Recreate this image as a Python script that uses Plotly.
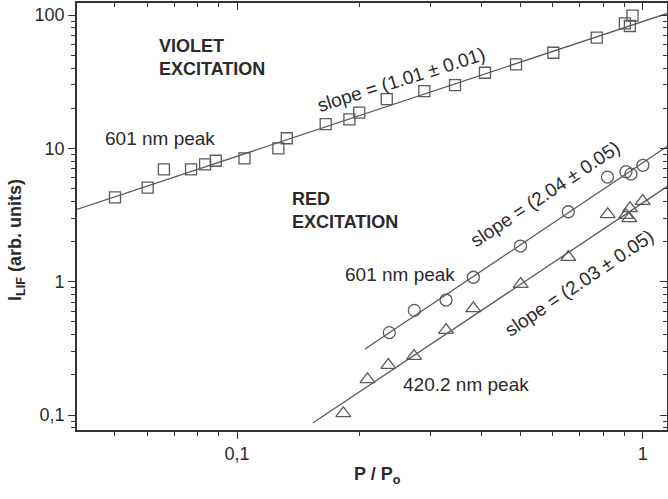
import plotly.graph_objects as go

# ---- data ----
violet_P = [0.050, 0.0602, 0.066, 0.077, 0.0834, 0.0886, 0.1043, 0.1264, 0.1326, 0.1654,
            0.1892, 0.2001, 0.2339, 0.2895, 0.3446, 0.4085, 0.4873, 0.6023, 0.7705, 0.904, 0.944, 0.930]
violet_I = [4.28, 5.07, 6.95, 6.95, 7.59, 8.07, 8.41, 10.0, 11.9, 15.2,
            16.5, 18.5, 23.4, 26.9, 29.8, 36.9, 42.7, 52.1, 67.6, 86.6, 98.8, 82.7]

red601_P = [0.2373, 0.2735, 0.3275, 0.3824, 0.4998, 0.6557, 0.8188, 0.9095, 0.9359, 1.0017]
red601_I = [0.415, 0.609, 0.728, 1.079, 1.85, 3.345, 6.09, 6.68, 6.41, 7.46]

red420_P = [0.1828, 0.2096, 0.236, 0.2731, 0.3275, 0.3824, 0.5004, 0.6557, 0.82, 0.9095, 0.9306, 0.927, 1.0]
red420_I = [0.1028, 0.185, 0.2366, 0.2767, 0.4335, 0.63, 0.959, 1.53, 3.2, 3.16, 3.55, 2.98, 4.02]

# power-law fits: (prefactor, slope, P start, P end)
fit_violet = (89.3, 1.01, 0.040, 1.17)
fit_601 = (7.78, 2.04, 0.2068, 1.17)
fit_420 = (3.90, 2.03, 0.1537, 1.17)

x_tickvals = [0.1, 1]
x_ticktext = ["0,1", "1"]
y_tickvals = [0.1, 1, 10, 100]
y_ticktext = ["0,1", "1", "10", "100"]

FONT = "Arial, Liberation Sans, sans-serif"
GREY = "#5a5a5a"
TXT = "#2a2a2a"

fig = go.Figure()

def fit_line(params):
    a, s, p0, p1 = params
    xs = [p0, p1]
    ys = [a * p ** s for p in xs]
    return xs, ys

for params in (fit_violet, fit_601, fit_420):
    xs, ys = fit_line(params)
    fig.add_trace(go.Scatter(x=xs, y=ys, mode="lines",
                             line=dict(color=GREY, width=1.3), showlegend=False, hoverinfo="skip"))

fig.add_trace(go.Scatter(x=violet_P, y=violet_I, mode="markers",
                         marker=dict(symbol="square-open", size=11, color=GREY, line=dict(width=1.3)),
                         showlegend=False))
fig.add_trace(go.Scatter(x=red601_P, y=red601_I, mode="markers",
                         marker=dict(symbol="circle-open", size=12, color=GREY, line=dict(width=1.3)),
                         showlegend=False))
fig.add_trace(go.Scatter(x=red420_P, y=red420_I, mode="markers",
                         marker=dict(symbol="triangle-up-open", size=13, color=GREY, line=dict(width=1.3)),
                         showlegend=False))

XR = [-1.3947, 0.06]
YR = [-1.1125, 2.09]
AXC = "#333333"
X_MINOR = [0.05, 0.06, 0.07, 0.08, 0.09, 0.2, 0.3, 0.4, 0.5, 0.6, 0.7, 0.8, 0.9]
Y_MINOR = [0.08, 0.09, 0.2, 0.3, 0.4, 0.5, 0.6, 0.7, 0.8, 0.9,
           2, 3, 4, 5, 6, 7, 8, 9, 20, 30, 40, 50, 60, 70, 80, 90]

fig.update_layout(
    width=668, height=499,
    margin=dict(l=77, r=1, t=3, b=69),
    paper_bgcolor="white", plot_bgcolor="white",
    font=dict(family=FONT, size=18, color=TXT),
    xaxis=dict(type="log", range=XR, showgrid=False, zeroline=False,
               showline=True, linecolor=AXC, linewidth=1.6,
               ticks="outside", ticklen=7, tickwidth=1.4, tickcolor=AXC,
               tickvals=x_tickvals, ticktext=x_ticktext,
               tickfont=dict(size=18, color=TXT, family=FONT),
               minor=dict(ticks="outside", ticklen=4, tickwidth=1.2, tickcolor=AXC,
                          tickvals=X_MINOR, showgrid=False)),
    xaxis2=dict(type="log", range=XR, overlaying="x", side="top", showgrid=False, zeroline=False,
                showline=True, linecolor=AXC, linewidth=1.6,
                ticks="inside", ticklen=7, tickwidth=1.4, tickcolor=AXC,
                tickvals=x_tickvals, showticklabels=False,
                minor=dict(ticks="inside", ticklen=4, tickwidth=1.2, tickcolor=AXC,
                           tickvals=X_MINOR, showgrid=False)),
    yaxis=dict(type="log", range=YR, showgrid=False, zeroline=False,
               showline=True, linecolor=AXC, linewidth=1.6,
               ticks="outside", ticklen=7, tickwidth=1.4, tickcolor=AXC,
               tickvals=y_tickvals, ticktext=y_ticktext,
               tickfont=dict(size=18, color=TXT, family=FONT),
               minor=dict(ticks="outside", ticklen=4, tickwidth=1.2, tickcolor=AXC,
                          tickvals=Y_MINOR, showgrid=False)),
    yaxis2=dict(type="log", range=YR, overlaying="y", side="right", showgrid=False, zeroline=False,
                showline=True, linecolor=AXC, linewidth=1.6,
                ticks="inside", ticklen=7, tickwidth=1.4, tickcolor=AXC,
                tickvals=y_tickvals, showticklabels=False,
                minor=dict(ticks="inside", ticklen=4, tickwidth=1.2, tickcolor=AXC,
                           tickvals=Y_MINOR, showgrid=False)),
)
# invisible trace to activate secondary axes
fig.add_trace(go.Scatter(x=[0.5], y=[1], xaxis="x2", yaxis="y2", mode="markers",
                         marker=dict(opacity=0), showlegend=False, hoverinfo="skip"))

def ann(text, x, y, angle=0, bold=False, xanchor="center", size=19, align="center"):
    if bold:
        text = "<b>" + text + "</b>"
    fig.add_annotation(text=text, x=x, y=y, xref="paper", yref="paper", showarrow=False,
                       textangle=angle, xanchor=xanchor, yanchor="middle", align=align,
                       font=dict(family=FONT, size=size, color=TXT))

ann("VIOLET<br>EXCITATION", 0.1356, 0.8735, bold=True, xanchor="left", size=18, align="left")
ann("601 nm peak", 0.1407, 0.6838)
ann("slope = (1.01 ± 0.01)", 0.5508, 0.8197, angle=-17.5)
ann("RED<br>EXCITATION", 0.361, 0.5129, bold=True, xanchor="left", size=18, align="left")
ann("slope = (2.04 ± 0.05)", 0.7949, 0.5527, angle=-33.7)
ann("601 nm peak", 0.5475, 0.363)
ann("slope = (2.03 ± 0.05)", 0.8525, 0.3443, angle=-34)
ann("420.2 nm peak", 0.6593, 0.1054)
ann("P / P<sub>o</sub>", 0.5085, -0.1077, bold=True, size=18)
ann("I<sub>LIF</sub> (arb. units)", -0.1017, 0.445, angle=-90, bold=True, size=18)

fig.write_html("out.html")
